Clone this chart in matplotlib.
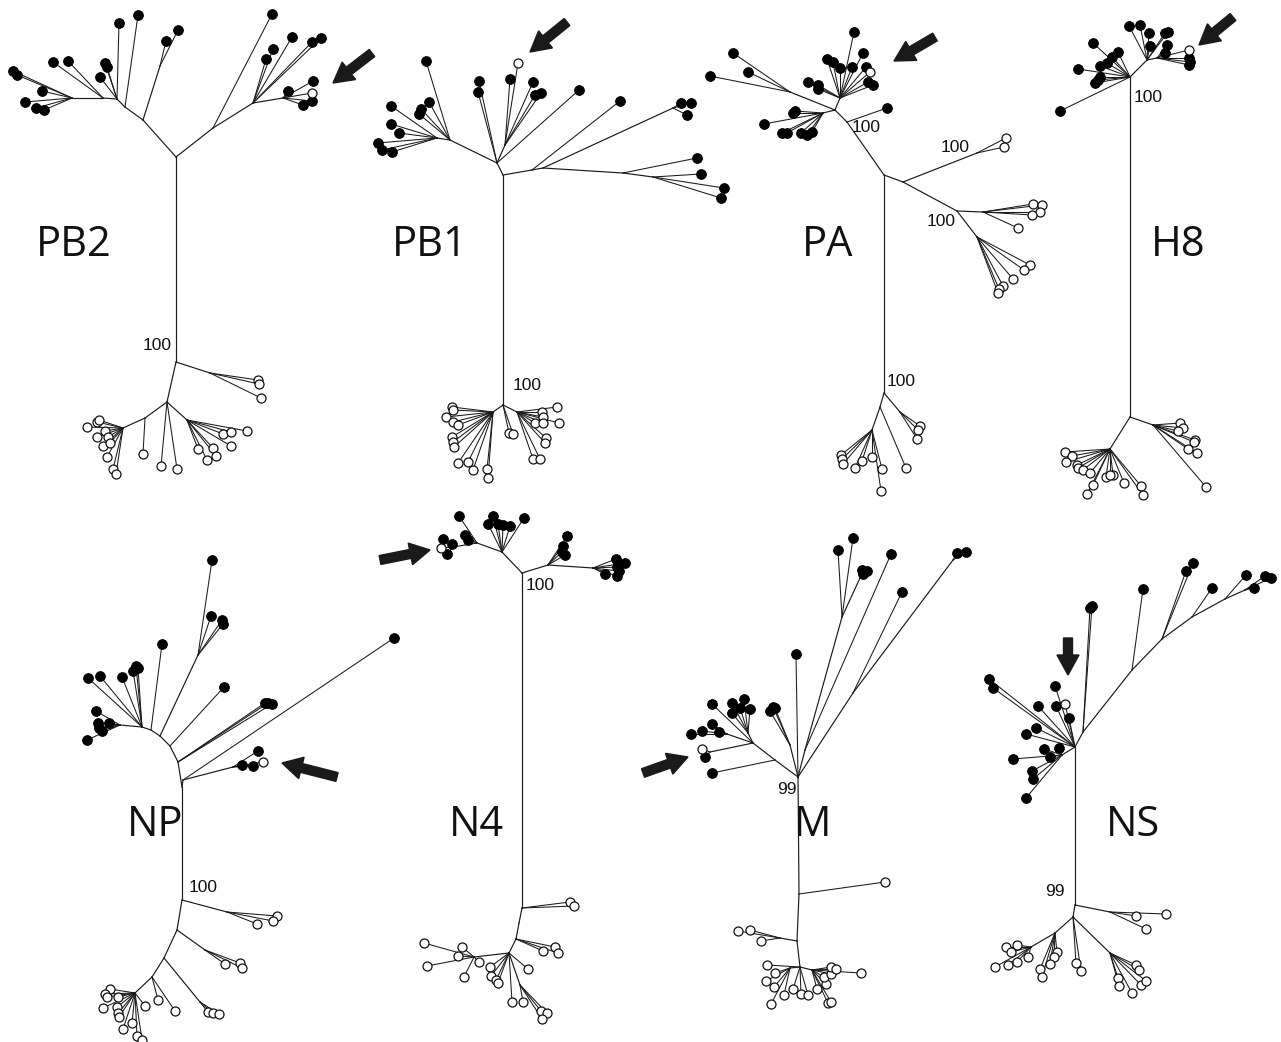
import matplotlib.pyplot as plt
from matplotlib.patches import FancyArrow

# trees in pixel units (y grows downward)
# node: (name, x, y, parent)   tip: (x, y, parent, filled)

PB2_NODES = [
    ("r0", 176, 157, None), ("r1", 176, 362, "r0"),
    ("a1", 143, 120, "r0"), ("a1b", 160, 66, "a1"), ("a2", 125, 107, "a1"),
    ("a3", 117, 99, "a2"), ("a4", 103, 98, "a3"), ("a5", 72, 98, "a4"),
    ("b1", 213, 128, "r0"), ("b2", 253, 103, "b1"), ("b3", 283, 98, "b2"),
    ("c1", 210, 373, "r1"), ("c2", 167, 402, "r1"), ("c3", 145, 418, "c2"),
    ("c4", 123, 428, "c3"), ("c5", 187, 420, "c2"),
]
PB2_TIPS = [
    (178, 30, "a1b", 1), (166, 41, "a1b", 1), (138, 15, "a2", 1),
    (119, 23, "a3", 1), (107, 67, "a3", 1), (105, 63, "a3", 1), (100, 77, "a3", 1),
    (68, 61, "a4", 1), (53, 62, "a4", 1),
    (13, 71, "a5", 1), (17, 75, "a5", 1), (42, 91, "a5", 1), (25, 102, "a5", 1),
    (36, 108, "a5", 1), (44, 110, "a5", 1),
    (272, 14, "b1", 1),
    (292, 37, "b2", 1), (273, 49, "b2", 1), (266, 59, "b2", 1), (312, 42, "b2", 1), (321, 38, "b2", 1),
    (313, 81, "b3", 1), (288, 91, "b3", 1), (312, 93, "b3", 0), (312, 101, "b3", 1), (303, 105, "b3", 1),
    (258, 380, "c1", 0), (259, 384, "c1", 0), (261, 398, "c1", 0),
    (143, 454, "c3", 0),
    (87, 427, "c4", 0), (97, 422, "c4", 0), (99, 420, "c4", 0), (105, 431, "c4", 0),
    (97, 437, "c4", 0), (108, 437, "c4", 0), (103, 446, "c4", 0), (110, 443, "c4", 0),
    (107, 457, "c4", 0), (113, 469, "c4", 0), (116, 474, "c4", 0),
    (161, 466, "c2", 0), (177, 469, "c2", 0),
    (198, 449, "c5", 0), (207, 460, "c5", 0), (213, 448, "c5", 0), (216, 456, "c5", 0),
    (231, 446, "c5", 0), (223, 434, "c5", 0), (231, 432, "c5", 0), (247, 431, "c5", 0),
]

PB1_NODES = [
    ("t0", 503, 175, None), ("b0", 503, 405, "t0"),
    ("t1", 497, 163, "t0"), ("t3", 505, 145, "t1"), ("t4", 450, 140, "t1"), ("t5", 437, 138, "t4"),
    ("t2", 532, 170, "t0"), ("t6", 543, 168, "t2"), ("t6a", 673, 108, "t6"),
    ("t7", 623, 173, "t6"), ("t8", 653, 177, "t7"),
    ("bl", 493, 412, "b0"), ("br", 517, 412, "b0"),
]
PB1_TIPS = [
    (479, 81, "t1", 1), (478, 92, "t1", 1),
    (510, 79, "t3", 1), (518, 63, "t3", 0), (533, 82, "t3", 1), (535, 95, "t3", 1), (541, 93, "t3", 1),
    (579, 90, "t1", 1),
    (426, 61, "t4", 1), (429, 102, "t4", 1), (421, 109, "t4", 1), (419, 114, "t4", 1),
    (391, 106, "t5", 1), (391, 124, "t5", 1), (399, 133, "t5", 1), (378, 143, "t5", 1),
    (382, 150, "t5", 1), (392, 152, "t5", 1),
    (620, 101, "t2", 1),
    (681, 103, "t6a", 1), (691, 103, "t6a", 1), (687, 115, "t6a", 1),
    (697, 158, "t7", 1), (701, 174, "t8", 1), (724, 188, "t8", 1), (721, 198, "t8", 1),
    (452, 407, "bl", 0), (453, 410, "bl", 0), (446, 417, "bl", 0), (453, 422, "bl", 0),
    (458, 425, "bl", 0), (452, 437, "bl", 0), (453, 442, "bl", 0), (454, 447, "bl", 0),
    (458, 463, "bl", 0), (468, 462, "bl", 0), (473, 470, "bl", 0), (487, 469, "bl", 0),
    (488, 478, "bl", 0),
    (509, 433, "b0", 0), (513, 434, "b0", 0),
    (542, 412, "br", 0), (557, 407, "br", 0), (543, 417, "br", 0), (535, 423, "br", 0),
    (543, 423, "br", 0), (559, 423, "br", 0), (546, 438, "br", 0), (545, 443, "br", 0),
    (533, 459, "br", 0), (540, 459, "br", 0),
]

PA_NODES = [
    ("p0", 884, 175, None), ("q0", 884, 393, "p0"),
    ("p1a", 847, 122, "p0"), ("p1", 835, 110, "p1a"), ("p2", 840, 98, "p1"),
    ("p3", 790, 92, "p1"), ("p4", 823, 113, "p1"),
    ("p5", 903, 182, "p0"), ("p5a", 977, 153, "p5"), ("p6", 957, 211, "p5"),
    ("p6a", 983, 212, "p6"), ("p7", 977, 237, "p6"),
    ("q1", 880, 407, "q0"), ("q1a", 900, 412, "q0"), ("q2", 872, 430, "q1"),
]
PA_TIPS = [
    (887, 108, "p1a", 1),
    (854, 32, "p2", 1), (863, 53, "p2", 1), (827, 59, "p2", 1), (833, 62, "p2", 1),
    (840, 68, "p2", 1), (852, 67, "p2", 1), (866, 67, "p2", 1), (870, 72, "p2", 0),
    (868, 82, "p2", 1), (873, 85, "p2", 1), (808, 82, "p2", 1), (818, 85, "p2", 1), (818, 89, "p2", 1),
    (733, 53, "p3", 1), (748, 72, "p3", 1), (710, 76, "p3", 1),
    (795, 111, "p4", 1), (793, 113, "p4", 1), (764, 124, "p4", 1), (782, 133, "p4", 1),
    (787, 133, "p4", 1), (801, 133, "p4", 1), (807, 135, "p4", 1), (812, 132, "p4", 1),
    (1006, 138, "p5a", 0), (1004, 147, "p5a", 0),
    (1033, 204, "p6a", 0), (1042, 205, "p6a", 0), (1040, 212, "p6a", 0), (1032, 215, "p6a", 0),
    (1018, 228, "p6a", 0),
    (1030, 265, "p7", 0), (1024, 270, "p7", 0), (1013, 279, "p7", 0), (1003, 286, "p7", 0),
    (999, 289, "p7", 0), (998, 293, "p7", 0),
    (920, 426, "q1a", 0), (918, 430, "q1a", 0), (917, 439, "q1a", 0),
    (906, 468, "q1", 0),
    (841, 455, "q2", 0), (842, 459, "q2", 0), (843, 464, "q2", 0), (855, 468, "q2", 0),
    (862, 461, "q2", 0), (872, 457, "q2", 0), (882, 469, "q2", 0), (881, 491, "q2", 0),
]

H8_NODES = [
    ("h0", 1130, 77, None), ("k0", 1130, 417, "h0"),
    ("h1", 1147, 60, "h0"), ("h2", 1157, 58, "h1"),
    ("k1", 1153, 425, "k0"), ("k2", 1110, 449, "k0"),
]
H8_TIPS = [
    (1060, 111, "h0", 1),
    (1093, 43, "h0", 1), (1078, 69, "h0", 1), (1100, 66, "h0", 1), (1107, 63, "h0", 1),
    (1112, 57, "h0", 1), (1118, 52, "h0", 1), (1095, 83, "h0", 1), (1098, 80, "h0", 1), (1100, 77, "h0", 1),
    (1129, 26, "h1", 1), (1140, 25, "h1", 1), (1149, 33, "h1", 1), (1150, 46, "h1", 1),
    (1165, 33, "h1", 1), (1168, 32, "h1", 1),
    (1167, 45, "h2", 1), (1165, 53, "h2", 1), (1189, 50, "h2", 0), (1189, 58, "h2", 1),
    (1189, 65, "h2", 1), (1190, 62, "h2", 1),
    (1180, 423, "k1", 0), (1183, 428, "k1", 0), (1178, 431, "k1", 0), (1195, 440, "k1", 0),
    (1194, 442, "k1", 0), (1188, 449, "k1", 0), (1197, 453, "k1", 0), (1206, 487, "k1", 0),
    (1065, 452, "k2", 0), (1072, 456, "k2", 0), (1066, 462, "k2", 0), (1077, 465, "k2", 0),
    (1078, 468, "k2", 0), (1083, 470, "k2", 0), (1090, 473, "k2", 0), (1093, 485, "k2", 0),
    (1087, 494, "k2", 0), (1106, 477, "k2", 0), (1113, 475, "k2", 0), (1110, 475, "k2", 0),
    (1124, 483, "k2", 0), (1141, 486, "k2", 0), (1143, 495, "k2", 0),
]

NP_NODES = [
    ("n0", 182, 787, None), ("m0", 182, 900, "n0"),
    ("n0a", 183, 780, "n0"), ("n0b", 233, 767, "n0a"),
    ("n1", 178, 762, "n0"), ("n2", 170, 746, "n1"), ("n3", 160, 736, "n2"),
    ("n3a", 198, 655, "n3"), ("n4", 151, 730, "n3"), ("n5", 142, 727, "n4"), ("n6", 120, 725, "n5"),
    ("m1", 177, 930, "m0"), ("m0a", 227, 912, "m0"), ("m1a", 205, 950, "m1"),
    ("m2", 164, 958, "m1"), ("m2a", 200, 1002, "m2"), ("m3", 152, 977, "m2"), ("m5", 135, 993, "m3"),
]
NP_TIPS = [
    (394, 638, "n0a", 1),
    (263, 762, "n0b", 0), (253, 766, "n0b", 1), (242, 765, "n0b", 1), (258, 751, "n0b", 1),
    (272, 704, "n1", 1), (268, 703, "n1", 1), (265, 703, "n1", 1),
    (224, 687, "n2", 1),
    (212, 560, "n3a", 1), (211, 616, "n3a", 1), (222, 620, "n3a", 1), (223, 624, "n3a", 1),
    (162, 644, "n4", 1),
    (136, 666, "n5", 1), (138, 668, "n5", 1), (133, 671, "n5", 1), (122, 677, "n5", 1),
    (100, 676, "n5", 1), (88, 678, "n5", 1),
    (96, 711, "n6", 1), (98, 723, "n6", 1), (109, 723, "n6", 1), (99, 728, "n6", 1),
    (102, 731, "n6", 1), (87, 740, "n6", 1),
    (277, 916, "m0a", 0), (273, 921, "m0a", 0), (257, 924, "m0a", 0),
    (225, 964, "m1a", 0), (240, 963, "m1a", 0), (242, 968, "m1a", 0),
    (208, 1012, "m2a", 0), (213, 1013, "m2a", 0), (219, 1014, "m2a", 0),
    (175, 1011, "m3", 0), (158, 1000, "m3", 0),
    (145, 1006, "m5", 0), (110, 989, "m5", 0), (105, 994, "m5", 0), (107, 997, "m5", 0),
    (103, 1008, "m5", 0), (118, 997, "m5", 0), (117, 1007, "m5", 0), (118, 1013, "m5", 0),
    (119, 1017, "m5", 0), (132, 1023, "m5", 0), (123, 1029, "m5", 0), (137, 1036, "m5", 0),
    (142, 1040, "m5", 0),
]

N4_NODES = [
    ("u0", 522, 573, None), ("L1", 502, 552, "u0"), ("L2", 477, 543, "L1"), ("L3", 453, 547, "L2"),
    ("R1", 548, 565, "u0"), ("R2", 593, 568, "R1"),
    ("w0", 522, 908, "u0"), ("w0a", 519, 923, "w0"), ("w1", 516, 939, "w0a"),
    ("w2", 509, 953, "w1"), ("w2l", 474, 957, "w2"), ("w2r", 520, 985, "w2"),
]
N4_TIPS = [
    (493, 516, "L1", 1), (488, 524, "L1", 1), (498, 524, "L1", 1), (503, 525, "L1", 1),
    (510, 526, "L1", 1), (524, 518, "L1", 1),
    (459, 516, "L2", 1), (465, 535, "L2", 1), (468, 540, "L2", 1),
    (443, 539, "L3", 1), (452, 544, "L3", 1), (441, 548, "L3", 0), (447, 554, "L3", 1),
    (567, 536, "R1", 1), (563, 546, "R1", 1), (562, 552, "R1", 1), (565, 555, "R1", 1),
    (616, 559, "R2", 1), (625, 563, "R2", 1), (617, 567, "R2", 1), (619, 571, "R2", 1),
    (605, 574, "R2", 1), (617, 576, "R2", 1),
    (570, 902, "w0", 0), (574, 906, "w0", 0),
    (543, 951, "w1", 0), (555, 947, "w1", 0), (558, 953, "w1", 0),
    (424, 943, "w2l", 0), (462, 947, "w2l", 0), (458, 956, "w2l", 0), (479, 962, "w2l", 0),
    (427, 966, "w2l", 0), (464, 977, "w2l", 0),
    (490, 967, "w2", 0), (491, 976, "w2", 0), (496, 980, "w2", 0), (498, 983, "w2", 0),
    (528, 969, "w2", 0), (512, 1002, "w2", 0),
    (523, 1002, "w2r", 0), (541, 1011, "w2r", 0), (547, 1013, "w2r", 0), (542, 1019, "w2r", 0),
]

M_NODES = [
    ("M0", 798, 777, None),
    ("Ma", 853, 693, "M0"), ("Mab", 953, 560, "Ma"),
    ("Mb", 805, 750, "M0"), ("Mc", 842, 617, "Mb"), ("Mc2", 860, 578, "Mc"),
    ("Mf", 790, 745, "M0"),
    ("Md", 775, 760, "M0"), ("Me", 753, 743, "Md"),
    ("Me1", 748, 733, "Me"), ("Me2", 710, 752, "Me"), ("Me3", 727, 734, "Me"),
    ("z0", 799, 894, "M0"), ("z1", 797, 941, "z0"), ("z1a", 780, 938, "z1"),
    ("z2", 800, 967, "z1"), ("z2l", 790, 968, "z2"), ("z2r", 812, 970, "z2"),
]
M_TIPS = [
    (902, 592, "Ma", 1), (966, 552, "Mab", 1), (957, 553, "Mab", 1),
    (891, 554, "Mb", 1),
    (838, 550, "Mc", 1), (853, 538, "Mc", 1),
    (862, 570, "Mc2", 1), (867, 571, "Mc2", 1), (863, 574, "Mc2", 1),
    (796, 654, "M0", 1),
    (770, 711, "Mf", 1), (775, 708, "Mf", 1), (773, 707, "Mf", 1),
    (712, 773, "Md", 1),
    (712, 704, "Me", 1),
    (732, 703, "Me1", 1), (744, 699, "Me1", 1), (740, 708, "Me1", 1), (732, 713, "Me1", 1),
    (750, 709, "Me1", 1),
    (702, 749, "Me2", 0), (705, 757, "Me2", 1),
    (691, 734, "Me3", 1), (702, 731, "Me3", 1), (712, 724, "Me3", 1), (719, 732, "Me3", 1),
    (885, 882, "z0", 0),
    (738, 931, "z1a", 0), (750, 930, "z1a", 0), (761, 941, "z1a", 0),
    (767, 965, "z2", 0), (775, 973, "z2l", 0), (766, 981, "z2l", 0), (774, 987, "z2l", 0),
    (784, 995, "z2l", 0), (771, 1004, "z2l", 0),
    (793, 989, "z2", 0), (801, 994, "z2", 0), (808, 995, "z2", 0),
    (817, 989, "z2r", 0), (826, 984, "z2r", 0), (824, 977, "z2r", 0), (831, 974, "z2r", 0),
    (831, 967, "z2r", 0), (836, 969, "z2r", 0), (861, 973, "z2r", 0), (828, 1003, "z2r", 0),
    (831, 1002, "z2r", 0),
]

NS_NODES = [
    ("s0", 1075, 747, None),
    ("s1", 1083, 732, "s0"), ("s2", 1132, 670, "s1"), ("s3", 1162, 639, "s2"),
    ("s4", 1192, 617, "s3"), ("s5", 1225, 599, "s4"), ("s6", 1245, 590, "s5"),
    ("sl", 1062, 755, "s0"),
    ("y0", 1075, 905, "s0"), ("y0r", 1110, 912, "y0"), ("y1", 1073, 917, "y0"),
    ("y2", 1055, 933, "y1"), ("y3", 1031, 947, "y2"), ("y4", 1110, 953, "y1"),
]
NS_TIPS = [
    (1090, 608, "s1", 1), (1092, 606, "s1", 1),
    (1143, 589, "s2", 1),
    (1186, 571, "s3", 1), (1193, 563, "s3", 1),
    (1212, 588, "s4", 1),
    (1246, 575, "s5", 1),
    (1265, 576, "s6", 1), (1271, 578, "s6", 1), (1254, 588, "s6", 1),
    (989, 679, "s0", 1), (993, 688, "s0", 1), (1038, 706, "s0", 1), (1055, 686, "s0", 1),
    (1065, 704, "s0", 0), (1056, 706, "s0", 1), (1069, 718, "s0", 1), (1036, 728, "s0", 1),
    (1026, 734, "s0", 1),
    (1044, 749, "sl", 1), (1059, 748, "sl", 1), (1050, 757, "sl", 1), (1013, 759, "sl", 1),
    (1032, 771, "sl", 1), (1033, 779, "sl", 1), (1026, 798, "sl", 1),
    (1166, 914, "y0r", 0), (1136, 916, "y0r", 0), (1146, 929, "y0r", 0),
    (1006, 947, "y3", 0), (1017, 945, "y3", 0), (1011, 952, "y3", 0), (1028, 957, "y3", 0),
    (1017, 962, "y3", 0), (1008, 965, "y3", 0), (995, 967, "y3", 0),
    (1057, 952, "y2", 0), (1054, 957, "y2", 0), (1050, 964, "y2", 0), (1040, 969, "y2", 0),
    (1042, 977, "y2", 0),
    (1076, 963, "y1", 0), (1081, 971, "y1", 0),
    (1136, 965, "y4", 0), (1139, 970, "y4", 0), (1118, 978, "y4", 0), (1119, 986, "y4", 0),
    (1132, 993, "y4", 0), (1141, 985, "y4", 0), (1146, 981, "y4", 0),
]

# segment names and where they sit
names = ["PB2", "PB1", "PA", "H8", "NP", "N4", "M", "NS"]
name_x = [74, 430, 828, 1178, 155, 476, 813, 1133]
name_y = [245, 245, 245, 245, 825, 825, 825, 825]

# bootstrap values
boot_text = ["100", "100", "100", "100", "100", "100", "100", "100", "100", "99", "99"]
boot_x = [157, 527, 866, 955, 941, 901, 1148, 203, 540, 787, 1055]
boot_y = [346, 385, 128, 148, 222, 381, 97, 887, 586, 790, 892]

# arrows pointing at the open (odd) strains: tail -> head
arrow_tail = [(372, 53), (567, 22), (935, 37), (1233, 17), (337, 777), (380, 560), (643, 773), (1068, 638)]
arrow_head = [(333, 83), (530, 52), (894, 61), (1199, 45), (282, 763), (430, 550), (688, 757), (1068, 675)]

TREES = [(PB2_NODES, PB2_TIPS), (PB1_NODES, PB1_TIPS), (PA_NODES, PA_TIPS), (H8_NODES, H8_TIPS),
         (NP_NODES, NP_TIPS), (N4_NODES, N4_TIPS), (M_NODES, M_TIPS), (NS_NODES, NS_TIPS)]

LINE = '#1a1a1a'


def draw_tree(ax, nodes, tips):
    pos = {}
    for name, x, y, parent in nodes:
        pos[name] = (x, y)
        if parent is not None:
            px, py = pos[parent]
            ax.plot([px, x], [py, y], color=LINE, lw=0.85, zorder=1)
    for x, y, parent, filled in tips:
        px, py = pos[parent]
        ax.plot([px, x], [py, y], color=LINE, lw=0.75, zorder=1)
    fx = [t[0] for t in tips if t[3]]
    fy = [t[1] for t in tips if t[3]]
    ox = [t[0] for t in tips if not t[3]]
    oy = [t[1] for t in tips if not t[3]]
    ax.scatter(fx, fy, s=50, c='black', edgecolors='black', linewidths=0.6, zorder=3)
    ax.scatter(ox, oy, s=42, facecolors='white', edgecolors='#111111', linewidths=0.9, zorder=3)


fig = plt.figure(figsize=(12.81, 10.42), dpi=100)
ax = fig.add_axes([0, 0, 1, 1])
ax.set_xlim(0, 1281)
ax.set_ylim(1042, 0)
ax.axis('off')

for nodes, tips in TREES:
    draw_tree(ax, nodes, tips)

for t, x, y in zip(names, name_x, name_y):
    ax.text(x, y, t, fontsize=30, family='Open Sans', ha='center', va='center', color='#111111')

for t, x, y in zip(boot_text, boot_x, boot_y):
    ax.text(x, y, t, fontsize=12.5, family='Liberation Sans', ha='center', va='center', color='#111111')

for (x0, y0), (x1, y1) in zip(arrow_tail, arrow_head):
    ax.add_patch(FancyArrow(x0, y0, x1 - x0, y1 - y0, width=9, head_width=22, head_length=20,
                            length_includes_head=True, color='#1a1a1a', zorder=4))

fig.savefig('out.png', dpi=100)
